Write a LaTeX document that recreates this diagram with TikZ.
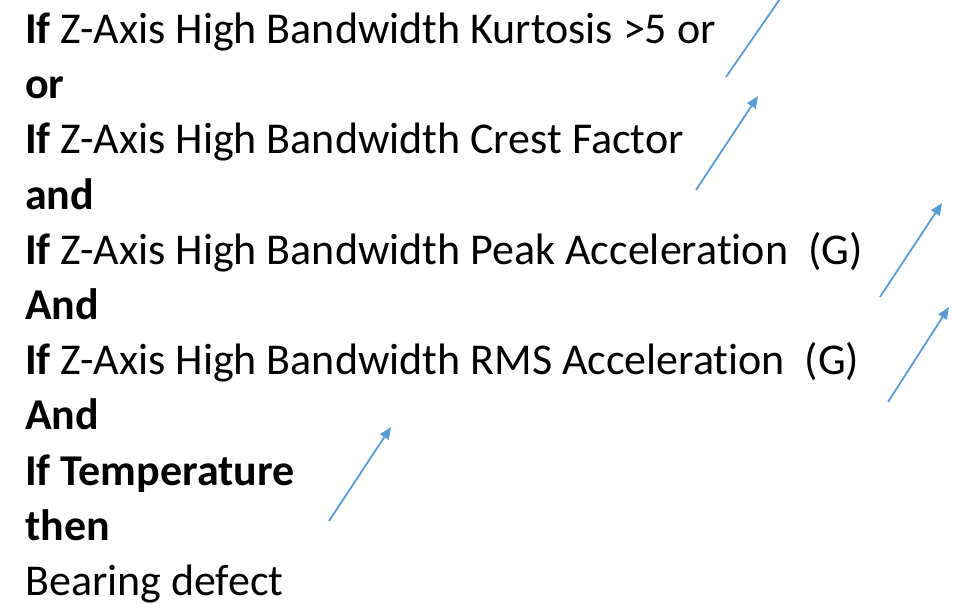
\documentclass[tikz,border=0pt]{standalone}
\usepackage{fontspec}
\setmainfont{Carlito}[Ligatures=NoCommon]
\usetikzlibrary{arrows.meta}
\definecolor{arrowblue}{RGB}{91,155,213}
\tikzset{
  txt/.style={anchor=base west, inner sep=0pt, font=\fontsize{44}{53}\selectfont, text=black},
  arr/.style={draw=arrowblue, line width=1.8pt, -{Triangle[length=12pt,width=10pt]}},
  arrnotip/.style={draw=arrowblue, line width=1.8pt}
}
\begin{document}
\begin{tikzpicture}[x=1pt,y=-1pt]
\useasboundingbox (0,0) rectangle (958,604);
\clip (0,0) rectangle (958,604);
\node[txt] (l1) at (25,43.5) {\textbf{If} Z-Axis High Bandwidth Kurtosis >5 or};
\node[txt] (l2) at (25,98.7) {\textbf{or}};
\node[txt] (l3) at (25,153.9) {\textbf{If} Z-Axis High Bandwidth Crest Factor};
\node[txt] (l4) at (25,209.1) {\textbf{and}};
\node[txt] (l5) at (25,264.3) {\textbf{If} Z-Axis High Bandwidth Peak Acceleration\ \ (G)};
\node[txt] (l6) at (25,319.5) {\textbf{And}};
\node[txt] (l7) at (25,374.7) {\textbf{If} Z-Axis High Bandwidth RMS Acceleration\ \ (G)};
\node[txt] (l8) at (25,429.9) {\textbf{And}};
\node[txt] (l9) at (25,485.1) {\textbf{If Temperature}};
\node[txt] (l10) at (25,540.3) {\textbf{then}};
\node[txt] (l11) at (25,595.5) {Bearing defect};
\coordinate (a1s) at (726,77);
\coordinate (a1e) at (782,-4);
\coordinate (a2s) at (696,190);
\coordinate (a2e) at (758,96);
\coordinate (a3s) at (880,297);
\coordinate (a3e) at (942,203);
\coordinate (a4s) at (888,402);
\coordinate (a4e) at (949,307);
\coordinate (a5s) at (329,521);
\coordinate (a5e) at (391,427);
\draw[arrnotip] (a1s) -- (a1e);
\draw[arr] (a2s) -- (a2e);
\draw[arr] (a3s) -- (a3e);
\draw[arr] (a4s) -- (a4e);
\draw[arr] (a5s) -- (a5e);
\end{tikzpicture}
\end{document}
